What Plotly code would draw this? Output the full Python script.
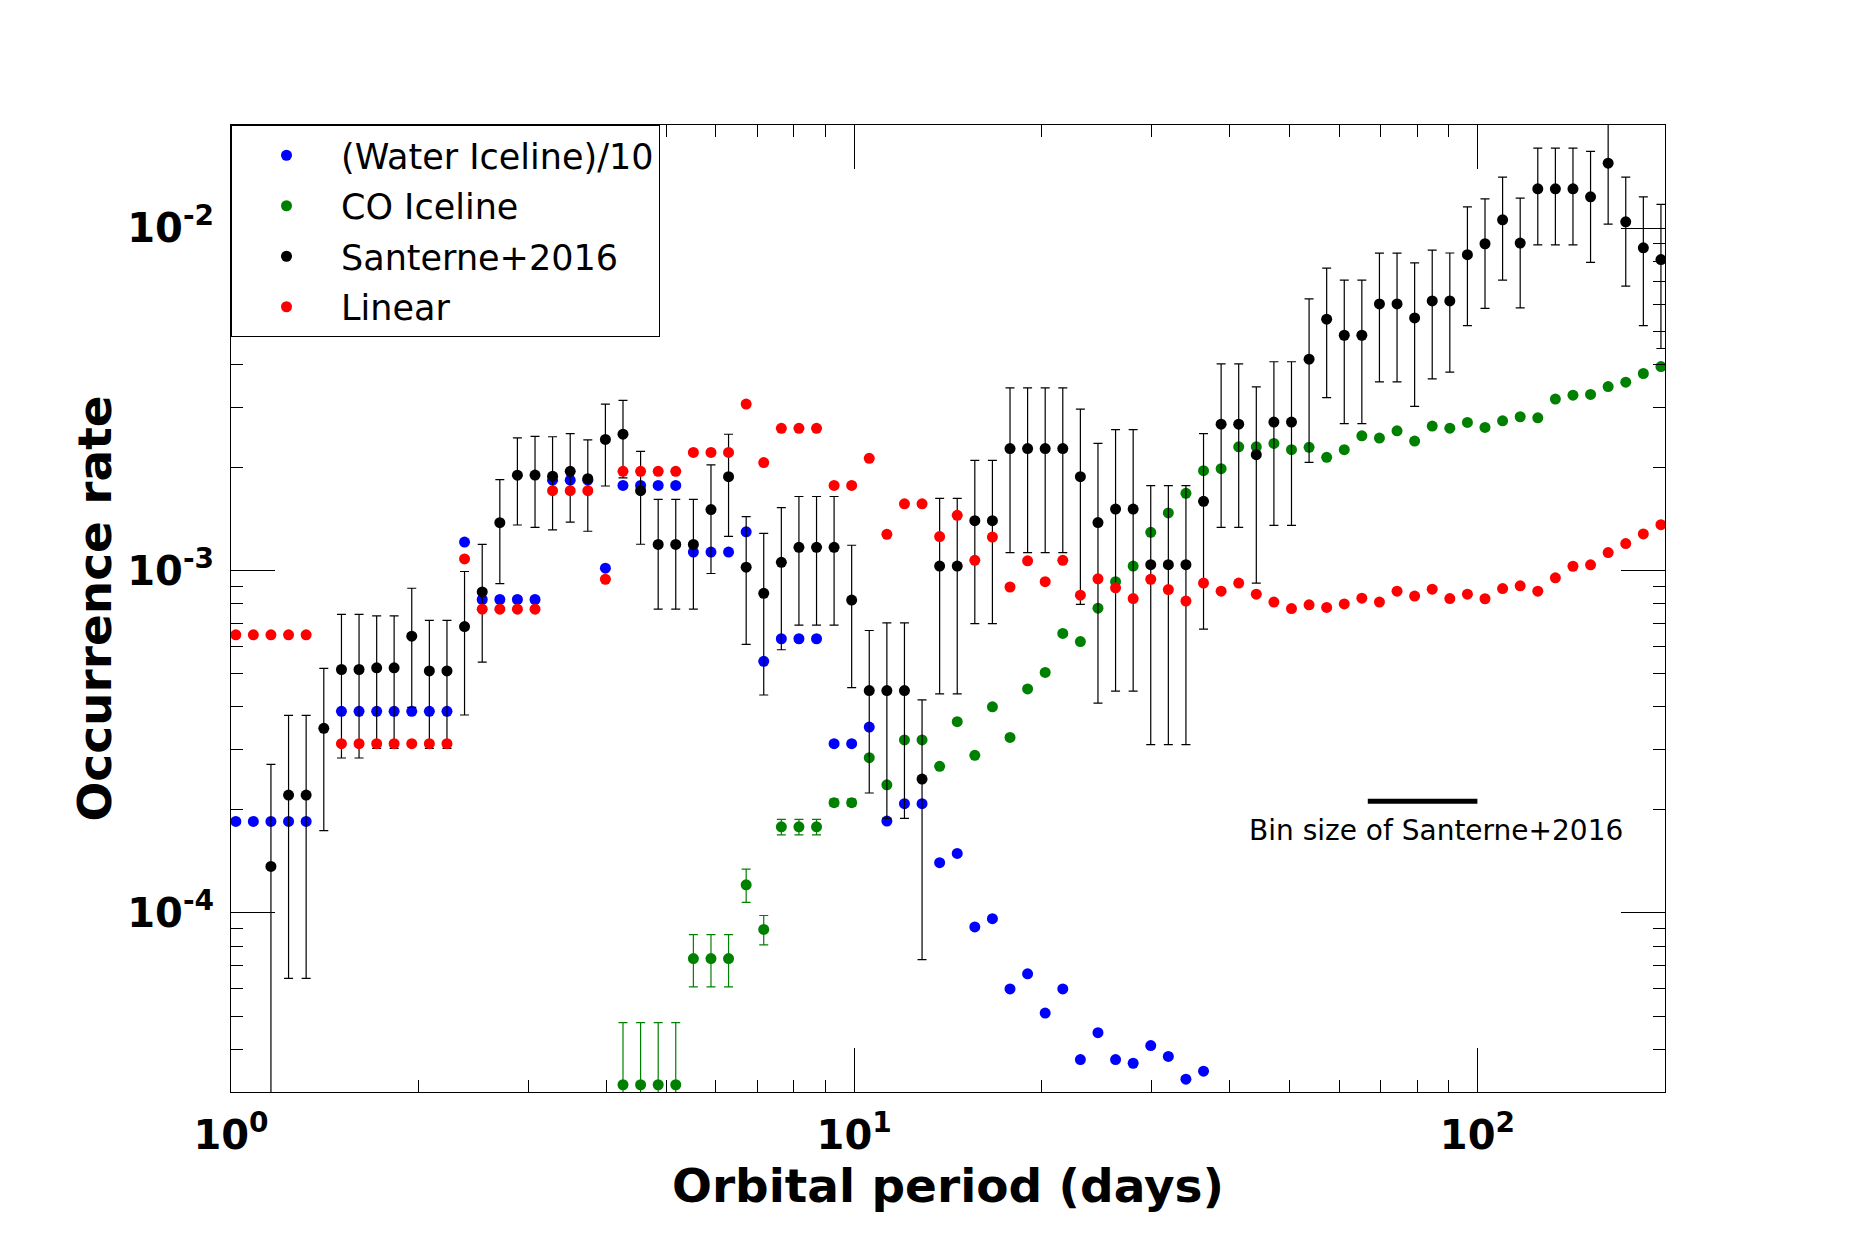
import math
import plotly.graph_objects as go

# ---------------- data ----------------
period = [1.018, 1.086, 1.159, 1.237, 1.320, 1.409, 1.504, 1.605, 1.713, 1.827,
          1.950, 2.081, 2.221, 2.370, 2.530, 2.700, 2.881, 3.075, 3.281, 3.502,
          3.737, 3.988, 4.256, 4.542, 4.847, 5.172, 5.520, 5.891, 6.286, 6.709,
          7.159, 7.640, 8.153, 8.701, 9.284, 9.907, 10.572, 11.283, 12.040, 12.849,
          13.712, 14.633, 15.615, 16.664, 17.784, 18.978, 20.252, 21.613, 23.064, 24.613,
          26.266, 28.030, 29.912, 31.921, 34.065, 36.353, 38.794, 41.400, 44.180, 47.147,
          50.313, 53.692, 57.298, 61.146, 65.252, 69.634, 74.311, 79.302, 84.627, 90.311,
          96.376, 102.85, 109.76, 117.13, 125.00, 133.39, 142.35, 151.91, 162.11, 173.00,
          184.62, 197.02]

water_iceline = [1.85e-4, 1.85e-4, 1.85e-4, 1.85e-4, 1.85e-4, None,
                 3.88e-4, 3.88e-4, 3.88e-4, 3.88e-4, 3.88e-4, 3.88e-4, 3.88e-4,
                 1.211e-3, 8.23e-4, 8.23e-4, 8.23e-4, 8.23e-4,
                 1.836e-3, 1.836e-3, 1.836e-3, 1.016e-3,
                 1.772e-3, 1.772e-3, 1.772e-3, 1.772e-3,
                 1.132e-3, 1.132e-3, 1.132e-3, 1.297e-3, 5.43e-4,
                 6.32e-4, 6.32e-4, 6.32e-4, 3.12e-4, 3.12e-4,
                 3.49e-4, 1.855e-4, 2.085e-4, 2.085e-4, 1.402e-4, 1.492e-4,
                 9.10e-5, 9.62e-5, 6.00e-5, 6.64e-5, 5.10e-5, 6.00e-5,
                 3.73e-5, 4.47e-5, 3.73e-5, 3.64e-5, 4.10e-5, 3.81e-5, 3.27e-5, 3.45e-5,
                 None, None, None, None, None, None, None, None, None, None,
                 None, None, None, None, None, None, None, None, None, None,
                 None, None, None, None, None, None]

co_iceline = [None] * 22 + [
    3.15e-5, 3.15e-5, 3.15e-5, 3.15e-5,
    7.36e-5, 7.36e-5, 7.36e-5, 1.208e-4, 8.95e-5,
    1.784e-4, 1.784e-4, 1.784e-4, 2.099e-4, 2.099e-4,
    2.84e-4, 2.367e-4, 3.20e-4, 3.20e-4, 2.68e-4, 3.62e-4,
    2.887e-4, 3.998e-4, 3.256e-4, 4.51e-4, 5.04e-4, 6.55e-4,
    6.20e-4, 7.76e-4, 9.28e-4, 1.030e-3, 1.293e-3, 1.473e-3,
    1.680e-3, 1.957e-3, 1.983e-3, 2.298e-3, 2.298e-3, 2.350e-3,
    2.253e-3, 2.289e-3, 2.140e-3, 2.253e-3, 2.474e-3, 2.436e-3,
    2.559e-3, 2.388e-3, 2.641e-3, 2.605e-3, 2.707e-3, 2.617e-3,
    2.737e-3, 2.812e-3, 2.793e-3, 3.166e-3, 3.252e-3, 3.267e-3,
    3.446e-3, 3.549e-3, 3.761e-3, 3.942e-3]

co_iceline_err = [None] * 22 + [
    1.63e-5, 1.63e-5, 1.63e-5, 1.63e-5,
    1.28e-5, 1.28e-5, 1.28e-5, 1.35e-5, 0.88e-5,
    0.93e-5, 0.93e-5, 0.93e-5, 0.5e-5, 0.5e-5] + [None] * 46

santerne = [None, None, 1.367e-4, 2.21e-4, 2.21e-4, 3.46e-4,
            5.14e-4, 5.14e-4, 5.20e-4, 5.20e-4, 6.43e-4, 5.09e-4, 5.09e-4,
            6.86e-4, 8.66e-4, 1.379e-3, 1.899e-3, 1.900e-3, 1.886e-3, 1.948e-3,
            1.855e-3, 2.414e-3, 2.502e-3, 1.710e-3, 1.192e-3, 1.192e-3, 1.192e-3,
            1.507e-3, 1.879e-3, 1.023e-3, 8.58e-4, 1.057e-3, 1.169e-3, 1.169e-3,
            1.169e-3, 8.20e-4, 4.46e-4, 4.46e-4, 4.46e-4, 2.461e-4,
            1.030e-3, 1.030e-3, 1.398e-3, 1.398e-3, 2.27e-3, 2.27e-3, 2.27e-3, 2.27e-3,
            1.879e-3, 1.380e-3, 1.512e-3, 1.512e-3, 1.04e-3, 1.04e-3, 1.04e-3,
            1.592e-3, 2.676e-3, 2.676e-3, 2.179e-3, 2.713e-3, 2.713e-3,
            4.14e-3, 5.42e-3, 4.865e-3, 4.865e-3, 6.004e-3, 6.004e-3, 5.465e-3,
            6.127e-3, 6.127e-3, 8.36e-3, 9.0e-3, 1.057e-2, 9.04e-3,
            1.302e-2, 1.302e-2, 1.302e-2, 1.234e-2, 1.547e-2, 1.043e-2, 8.76e-3, 8.09e-3]

santerne_err = [None, None, 1.35e-4, 1.566e-4, 1.566e-4, 1.72e-4,
                2.305e-4, 2.305e-4, 2.175e-4, 2.175e-4, 2.445e-4, 2.065e-4, 2.065e-4,
                3.075e-4, 3.26e-4, 4.63e-4, 5.41e-4, 5.64e-4, 5.72e-4, 5.63e-4,
                5.53e-4, 6.49e-4, 6.38e-4, 5.17e-4, 4.21e-4, 4.21e-4, 4.21e-4,
                5.27e-4, 6.21e-4, 4.145e-4, 4.25e-4, 4.70e-4, 4.76e-4, 4.76e-4,
                4.76e-4, 3.65e-4, 2.22e-4, 2.57e-4, 2.57e-4, 1.73e-4,
                5.94e-4, 5.94e-4, 6.98e-4, 6.98e-4, 1.1425e-3, 1.1425e-3, 1.1425e-3, 1.1425e-3,
                1.083e-3, 9.7e-4, 1.0675e-3, 1.0675e-3, 7.3e-4, 7.3e-4, 7.3e-4,
                9.18e-4, 1.339e-3, 1.339e-3, 1.26e-3, 1.358e-3, 1.358e-3,
                2.07e-3, 2.22e-3, 2.18e-3, 2.18e-3, 2.45e-3, 2.45e-3, 2.45e-3,
                2.50e-3, 2.33e-3, 3.17e-3, 3.17e-3, 3.52e-3, 3.19e-3,
                4.09e-3, 4.09e-3, 4.09e-3, 4.40e-3, 5.20e-3, 3.66e-3, 3.57e-3, 3.64e-3]

linear = [6.49e-4, 6.49e-4, 6.49e-4, 6.49e-4, 6.49e-4, None,
          3.12e-4, 3.12e-4, 3.12e-4, 3.12e-4, 3.12e-4, 3.12e-4, 3.12e-4,
          1.081e-3, 7.71e-4, 7.71e-4, 7.71e-4, 7.71e-4,
          1.710e-3, 1.710e-3, 1.710e-3, 9.43e-4,
          1.948e-3, 1.948e-3, 1.948e-3, 1.948e-3,
          2.212e-3, 2.212e-3, 2.212e-3, 3.062e-3, 2.066e-3,
          2.601e-3, 2.601e-3, 2.601e-3, 1.772e-3, 1.772e-3,
          2.127e-3, 1.276e-3, 1.566e-3, 1.566e-3, 1.256e-3, 1.449e-3,
          1.071e-3, 1.252e-3, 8.95e-4, 1.067e-3, 9.28e-4, 1.071e-3,
          8.47e-4, 9.46e-4, 8.90e-4, 8.28e-4, 9.43e-4, 8.80e-4, 8.14e-4, 9.19e-4,
          8.70e-4, 9.19e-4, 8.53e-4, 8.09e-4, 7.74e-4, 7.94e-4, 7.80e-4, 7.99e-4,
          8.30e-4, 8.09e-4, 8.70e-4, 8.42e-4, 8.82e-4, 8.28e-4, 8.53e-4, 8.27e-4,
          8.86e-4, 9.02e-4, 8.70e-4, 9.52e-4, 1.029e-3, 1.039e-3, 1.128e-3,
          1.199e-3, 1.279e-3, 1.361e-3]

series_names = ["(Water Iceline)/10", "CO Iceline", "Santerne+2016", "Linear"]
series_colors = ["#0000ff", "#008000", "#000000", "#ff0000"]

x_range = [1, 200]
y_range = [3e-5, 2e-2]
x_major = [1, 10, 100]
x_major_text = ["10<sup>0</sup>", "10<sup>1</sup>", "10<sup>2</sup>"]
x_minor = [2, 3, 4, 5, 6, 7, 8, 9, 20, 30, 40, 50, 60, 70, 80, 90]
y_major = [1e-4, 1e-3, 1e-2]
y_major_text = ["10<sup>-4</sup>", "10<sup>-3</sup>", "10<sup>-2</sup>"]
y_minor = [4e-5, 5e-5, 6e-5, 7e-5, 8e-5, 9e-5,
           2e-4, 3e-4, 4e-4, 5e-4, 6e-4, 7e-4, 8e-4, 9e-4,
           2e-3, 3e-3, 4e-3, 5e-3, 6e-3, 7e-3, 8e-3, 9e-3]

bin_bar_period = [66.7, 100.0]
bin_bar_rate = [2.12e-4, 2.12e-4]
bin_label = "Bin size of Santerne+2016"
bin_label_period = 85.9
bin_label_rate = 1.74e-4

FONT = "DejaVu Sans"

# ---------------- figure ----------------
fig = go.Figure()


def add_series(name, values, errors, color):
    err = None
    if errors is not None:
        err = dict(type="data", array=errors, visible=True, color=color,
                   thickness=1.2, width=4.5)
    fig.add_trace(go.Scatter(
        x=period, y=values, mode="markers", name=name, legendgroup=name,
        marker=dict(color=color, size=11, line=dict(width=0)),
        error_y=err,
    ))


add_series(series_names[0], water_iceline, None, series_colors[0])
add_series(series_names[1], co_iceline, co_iceline_err, series_colors[1])
add_series(series_names[2], santerne, santerne_err, series_colors[2])
add_series(series_names[3], linear, None, series_colors[3])

fig.add_trace(go.Scatter(
    x=bin_bar_period, y=bin_bar_rate, mode="lines",
    line=dict(color="black", width=5), showlegend=False, hoverinfo="skip",
))

fig.add_annotation(
    x=math.log10(bin_label_period), y=math.log10(bin_label_rate),
    xref="x", yref="y", text=bin_label, showarrow=False,
    xanchor="center", yanchor="middle",
    font=dict(family=FONT, size=28, color="black"),
)

axis_common = dict(
    type="log", showline=True, linecolor="black", linewidth=1,
    mirror="allticks", ticks="inside", ticklen=44, tickwidth=1,
    tickcolor="black", showgrid=False, zeroline=False, tickmode="array",
    tickfont=dict(family=FONT, size=40, color="black", weight="bold"),
)

fig.update_layout(
    width=1850, height=1250,
    margin=dict(l=231, r=185, t=125, b=158),
    paper_bgcolor="white", plot_bgcolor="white",
    font=dict(family=FONT, color="black"),
    showlegend=True,
    legend=dict(
        x=0, y=1, xanchor="left", yanchor="top",
        bgcolor="white", bordercolor="black", borderwidth=1,
        font=dict(family=FONT, size=35, color="black"),
        itemwidth=99, tracegroupgap=2,
    ),
    xaxis=dict(
        axis_common,
        range=[math.log10(x_range[0]), math.log10(x_range[1])],
        tickvals=x_major, ticktext=x_major_text,
        ticklabelstandoff=8,
        minor=dict(ticks="inside", ticklen=12, tickcolor="black", tickwidth=1,
                   tickmode="array", tickvals=x_minor, showgrid=False),
        title=dict(text="Orbital period (days)", standoff=0,
                   font=dict(family=FONT, size=47, color="black", weight="bold")),
    ),
    yaxis=dict(
        axis_common,
        range=[math.log10(y_range[0]), math.log10(y_range[1])],
        tickvals=y_major, ticktext=y_major_text,
        ticklabelstandoff=8,
        minor=dict(ticks="inside", ticklen=12, tickcolor="black", tickwidth=1,
                   tickmode="array", tickvals=y_minor, showgrid=False),
        title=dict(text="Occurrence rate", standoff=0,
                   font=dict(family=FONT, size=47, color="black", weight="bold")),
    ),
)

fig.write_html("out.html")
